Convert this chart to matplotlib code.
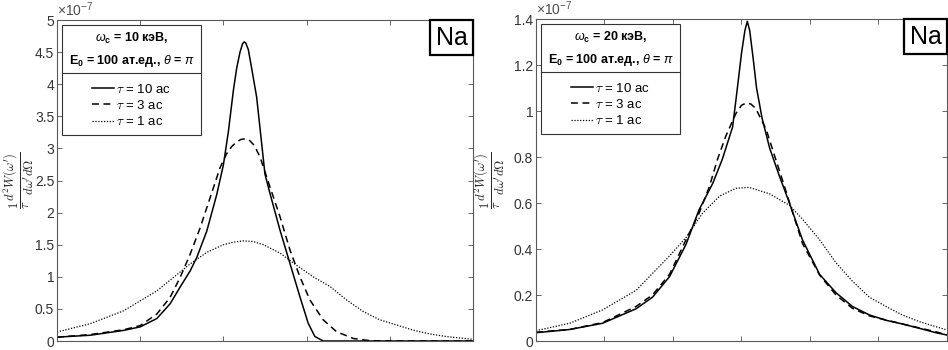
import matplotlib
matplotlib.use("Agg")
import matplotlib.pyplot as plt
from matplotlib.lines import Line2D
from matplotlib.offsetbox import AnchoredText
from matplotlib.ticker import FuncFormatter, MultipleLocator

plt.rcParams['font.family'] = ['Liberation Sans', 'DejaVu Sans']
plt.rcParams['mathtext.fontset'] = 'custom'
plt.rcParams['mathtext.rm'] = 'Liberation Sans'
plt.rcParams['mathtext.it'] = 'Liberation Sans:italic'
plt.rcParams['mathtext.bf'] = 'Liberation Sans:bold'

# ---- data, values in units of 1e-7 ----
# panel a: omega_c = 10 keV
a_x10 = [0.0, 0.4, 0.8, 1.0, 1.2, 1.36, 1.48, 1.6, 1.68, 1.8, 1.92, 2.0, 2.06, 2.12, 2.16, 2.20, 2.23,
         2.25, 2.27, 2.30, 2.34, 2.40, 2.45, 2.50, 2.56, 2.68, 2.80, 2.92, 3.02, 3.10, 3.20, 3.5, 4.0, 5.0]
a_y10 = [0.06, 0.09, 0.165, 0.22, 0.35, 0.58, 0.84, 1.09, 1.30, 1.71, 2.28, 2.74, 3.26, 3.90, 4.25, 4.50, 4.63,
         4.66, 4.64, 4.54, 4.25, 3.80, 3.20, 2.60, 2.30, 1.73, 1.21, 0.69, 0.275, 0.07, 0.0, 0.0, 0.0, 0.0]
a_x3 = [0.0, 0.4, 0.8, 1.0, 1.2, 1.36, 1.48, 1.6, 1.72, 1.84, 1.96, 2.04, 2.10, 2.16, 2.21, 2.26, 2.31,
        2.37, 2.44, 2.56, 2.68, 2.80, 2.92, 3.04, 3.20, 3.36, 3.56, 3.76, 4.0, 5.0]
a_y3 = [0.06, 0.10, 0.175, 0.24, 0.42, 0.68, 0.99, 1.35, 1.76, 2.23, 2.70, 2.92, 3.03, 3.10, 3.14, 3.15, 3.13,
        3.05, 2.87, 2.40, 1.94, 1.42, 1.00, 0.64, 0.33, 0.145, 0.04, 0.005, 0.0, 0.0]
a_x1 = [0.0, 0.4, 0.8, 1.2, 1.4, 1.6, 1.8, 2.0, 2.12, 2.24, 2.36, 2.48, 2.68, 2.88, 3.08, 3.28,
        3.48, 3.68, 3.88, 4.08, 4.28, 4.48, 4.68, 5.0]
a_y1 = [0.14, 0.27, 0.47, 0.78, 0.99, 1.20, 1.38, 1.50, 1.54, 1.56, 1.55, 1.50, 1.37, 1.18, 1.00, 0.85,
        0.64, 0.46, 0.33, 0.25, 0.17, 0.11, 0.07, 0.026]

# panel b: omega_c = 20 keV
b_x10 = [0.0, 0.49, 0.97, 1.46, 1.70, 1.95, 2.19, 2.38, 2.58, 2.72, 2.87, 2.92, 3.00, 3.05, 3.085,
         3.12, 3.17, 3.22, 3.30, 3.41, 3.55, 3.70, 3.89, 4.14, 4.38, 4.62, 4.87, 5.11, 5.35, 5.60, 5.84, 6.0]
b_y10 = [0.036, 0.05, 0.077, 0.14, 0.19, 0.28, 0.42, 0.57, 0.685, 0.79, 0.93, 1.05, 1.25, 1.35, 1.39,
         1.35, 1.23, 1.10, 0.97, 0.84, 0.72, 0.60, 0.44, 0.29, 0.21, 0.15, 0.113, 0.09, 0.074, 0.055, 0.036, 0.026]
b_x3 = [0.0, 0.49, 0.97, 1.46, 1.70, 1.95, 2.19, 2.38, 2.53, 2.65, 2.77, 2.92, 3.00, 3.07, 3.14, 3.21, 3.36,
        3.50, 3.63, 3.72, 3.89, 4.14, 4.38, 4.62, 4.87, 5.35, 5.84, 6.0]
b_y3 = [0.038, 0.05, 0.08, 0.15, 0.20, 0.29, 0.44, 0.555, 0.67, 0.79, 0.89, 0.99, 1.025, 1.035, 1.03, 1.01, 0.92,
        0.79, 0.67, 0.584, 0.425, 0.287, 0.20, 0.142, 0.109, 0.074, 0.04, 0.026]
b_x1 = [0.0, 0.49, 0.97, 1.46, 1.95, 2.19, 2.43, 2.68, 2.92, 3.11, 3.41, 3.70, 3.89, 4.14, 4.38,
        4.62, 4.87, 5.11, 5.35, 5.60, 5.84, 6.0]
b_y1 = [0.045, 0.077, 0.135, 0.22, 0.37, 0.45, 0.555, 0.63, 0.664, 0.668, 0.64, 0.59, 0.53, 0.44, 0.34,
        0.26, 0.19, 0.15, 0.113, 0.084, 0.062, 0.048]

labels = [r'$\tau$ = 10 ас', r'$\tau$ = 3 ас', r'$\tau$ = 1 ас']
titles = ['$\\omega_\\mathbf{c}$ = 10 кэВ,\nE$_\\mathbf{0}$ = 100 ат.ед., $\\theta$ = $\\pi$',
          '$\\omega_\\mathbf{c}$ = 20 кэВ,\nE$_\\mathbf{0}$ = 100 ат.ед., $\\theta$ = $\\pi$']
ylims = [5, 1.4]
ysteps = [0.5, 0.2]
xmax = [5, 6]

panels = [(a_x10, a_y10, a_x3, a_y3, a_x1, a_y1), (b_x10, b_y10, b_x3, b_y3, b_x1, b_y1)]

fig = plt.figure(figsize=(9.48, 3.5), dpi=100)
ax1 = fig.add_axes([0.0601, 0.0257, 0.4388, 0.917])
ax2 = fig.add_axes([0.5654, 0.0257, 0.4335, 0.920])
axes = [ax1, ax2]
label_x = [-0.050, -0.070]

legends = []
for i, ax in enumerate(axes):
    x10, y10, x3, y3, x1, y1 = panels[i]
    h1, = ax.plot(x10, y10, color='k', lw=1.1, ls='-')
    h2, = ax.plot(x3, y3, color='k', lw=1.1, ls=(0, (4.5, 3)))
    h3, = ax.plot(x1, y1, color='k', lw=0.9, ls=(0, (1, 1.3)))
    ax.set_xlim(0, xmax[i])
    ax.set_ylim(0, ylims[i])
    ax.xaxis.set_major_locator(MultipleLocator(1))
    ax.yaxis.set_major_locator(MultipleLocator(ysteps[i]))
    ax.yaxis.set_major_formatter(FuncFormatter(lambda v, p: f'{v:.10g}'))
    ax.set_xticklabels([])
    ax.tick_params(direction='in', top=True, right=True, length=3.5, width=0.6,
                   colors='0.3', labelcolor='0.2', labelsize=10, pad=2)
    for s in ax.spines.values():
        s.set_color('0.35')
        s.set_linewidth(0.8)
    ax.text(0.0, 1.002, r'$\times10^{-7}$', transform=ax.transAxes, ha='left', va='bottom',
            fontsize=10, color='0.3')
    ax.set_ylabel(r"$\frac{1}{\tau}\frac{d^2W(\omega')}{d\omega' d\Omega}$", fontsize=13,
                  math_fontfamily='cm', color='0.15')
    ax.yaxis.set_label_coords(label_x[i], 0.5)

    leg = ax.legend([h1, h2, h3], labels, title=titles[i], loc='upper left',
                    bbox_to_anchor=(0.012, 0.986), borderaxespad=0, fancybox=False,
                    edgecolor='0.2', framealpha=1, fontsize=9.5, handlelength=1.7,
                    handletextpad=0.15, labelspacing=0.25, borderpad=0.5,
                    alignment='center', title_fontproperties={'weight': 'bold', 'size': 9})
    leg.get_frame().set_linewidth(0.8)
    leg.get_title().set_multialignment('center')
    leg.get_title().set_linespacing(1.6)
    for t in leg.get_texts():
        t.set_math_fontfamily('cm')
    leg._legend_box.sep = 10
    legends.append(leg)

    at = AnchoredText('Na', loc='upper right', borderpad=0, frameon=True,
                      prop=dict(size=18), pad=0.22)
    at.patch.set_boxstyle('square', pad=0)
    at.patch.set_linewidth(1.6)
    at.patch.set_edgecolor('k')
    ax.add_artist(at)

# divider line between legend title and entries
fig.canvas.draw()
inv = fig.transFigure.inverted()
for leg in legends:
    fb = leg.get_frame().get_window_extent()
    tb = leg.get_title().get_window_extent()
    yp = tb.y0 - 4
    (x0, y0), (x1_, _) = inv.transform([(fb.x0, yp), (fb.x1, yp)])
    fig.add_artist(Line2D([x0, x1_], [y0, y0], color='0.2', lw=0.8))

fig.savefig('out.png', dpi=100)
